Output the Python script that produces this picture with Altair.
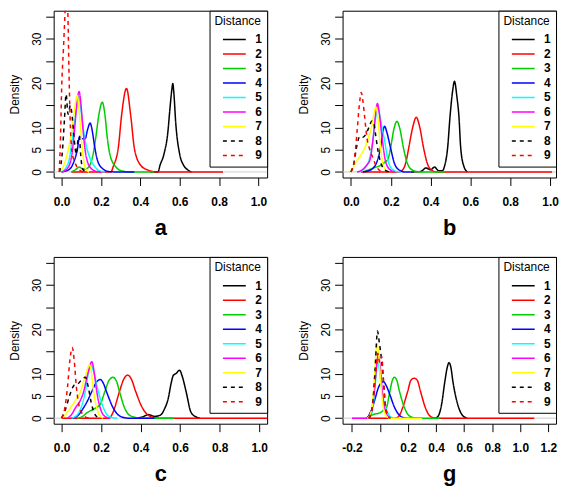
import altair as alt
import pandas as pd

SERIES = ["1", "2", "3", "4", "5", "6", "7", "8", "9"]
COLORS = ["#000000", "#FF0000", "#00CD00", "#0000FF", "#00FFFF", "#FF00FF", "#FFFF00", "#000000", "#FF0000"]
DASHES = [[1, 0]] * 7 + [[4, 4], [4, 4]]
Y_TICKS = [0, 5, 10, 15, 20, 25, 30, 35]
X_TICKS = [0.0, 0.2, 0.4, 0.6, 0.8, 1.0]
G_TICKS = [-0.2, 0.0, 0.2, 0.4, 0.6, 0.8, 1.0, 1.2]

# ---- panel a ----
A1 = [(0.45, 0), (0.49, 0), (0.50, 1.5), (0.52, 4), (0.54, 9), (0.55, 14), (0.56, 18.5), (0.565, 19.9), (0.57, 18), (0.58, 11), (0.60, 4), (0.62, 1.5), (0.64, 0.5), (0.66, 0)]
A2 = [(0.05, 0), (0.25, 0), (0.264, 1.4), (0.289, 5.7), (0.305, 12.8), (0.33, 18.8), (0.351, 12.8), (0.371, 5), (0.404, 1.4), (0.44, 0.4), (0.48, 0), (0.82, 0)]
A3 = [(0.05, 0), (0.07, 0.5), (0.09, 1.1), (0.11, 0.6), (0.13, 0.8), (0.158, 3.5), (0.174, 7.8), (0.19, 13), (0.207, 15.7), (0.22, 13), (0.232, 7.8), (0.248, 3.5), (0.281, 0.9), (0.31, 0.2), (0.35, 0), (0.47, 0)]
A4 = [(0.0, 0), (0.04, 0.6), (0.06, 2), (0.08, 5), (0.092, 8), (0.105, 7.5), (0.12, 7.5), (0.132, 9.5), (0.145, 11), (0.157, 9), (0.166, 6.3), (0.182, 2.7), (0.207, 0.8), (0.24, 0.1), (0.28, 0), (0.37, 0)]
A5 = [(0.0, 0), (0.02, 0.8), (0.04, 3), (0.051, 6.3), (0.07, 12.5), (0.089, 17), (0.10, 13.5), (0.117, 7.8), (0.141, 3.5), (0.166, 1.4), (0.19, 0.3), (0.22, 0)]
A6 = [(0.0, 0), (0.03, 0.8), (0.051, 3.5), (0.067, 10), (0.079, 16), (0.089, 18.1), (0.099, 15), (0.108, 10), (0.125, 3.5), (0.15, 0.8), (0.18, 0.1), (0.2, 0)]
A7 = [(-0.01, 0), (0.01, 1.4), (0.034, 5), (0.051, 9), (0.066, 14), (0.079, 17.2), (0.09, 13.5), (0.1, 7.8), (0.112, 2.7), (0.125, 0.6), (0.14, 0)]
A8 = [(-0.01, 0), (0.005, 5), (0.015, 12), (0.023, 17.5), (0.033, 13), (0.045, 15), (0.055, 12), (0.065, 7), (0.075, 4), (0.083, 7), (0.09, 8), (0.097, 4), (0.105, 1), (0.12, 0)]
A9 = [(-0.012, 0), (-0.005, 8), (0.0, 17.9), (0.01, 28), (0.018, 36), (0.025, 42), (0.032, 36), (0.038, 22), (0.045, 10), (0.055, 4), (0.065, 2.5), (0.08, 1), (0.1, 0.2), (0.12, 0)]

# ---- panel b ----
B1 = [(0.30, 0), (0.35, 0.1), (0.377, 0.9), (0.40, 0.5), (0.42, 1.1), (0.44, 0.3), (0.46, 0.3), (0.47, 1.3), (0.486, 5.6), (0.497, 12.1), (0.51, 18), (0.52, 20.4), (0.532, 17), (0.543, 12.1), (0.551, 5.6), (0.567, 1.3), (0.585, 0)]
B2 = [(0.05, 0), (0.24, 0), (0.26, 0.5), (0.275, 2), (0.291, 5.6), (0.31, 10), (0.328, 12.3), (0.346, 10), (0.364, 5.6), (0.383, 2), (0.40, 0.6), (0.43, 0), (1.01, 0)]
B3 = [(0.06, 0), (0.09, 0.5), (0.12, 1), (0.15, 1.5), (0.17, 2.2), (0.185, 2.8), (0.2, 5.6), (0.215, 9.5), (0.231, 11.4), (0.247, 9.5), (0.263, 5.6), (0.283, 2), (0.30, 0.7), (0.33, 0.1), (0.36, 0), (0.47, 0)]
B4 = [(0.06, 0), (0.09, 0.3), (0.11, 0.8), (0.128, 2), (0.149, 5.6), (0.16, 9), (0.169, 10.3), (0.18, 9), (0.198, 5.6), (0.218, 2), (0.24, 0.5), (0.27, 0), (0.3, 0)]
B5 = [(0.04, 0), (0.07, 0.8), (0.09, 2.5), (0.11, 7), (0.125, 12.5), (0.135, 14.5), (0.148, 12), (0.16, 9), (0.169, 7.1), (0.185, 2.8), (0.20, 1), (0.23, 0.1), (0.25, 0)]
B6 = [(0.03, 0), (0.06, 0.6), (0.08, 1.6), (0.096, 2.8), (0.112, 7.8), (0.124, 13), (0.133, 15.4), (0.143, 13), (0.156, 7.8), (0.172, 2.8), (0.19, 0.8), (0.22, 0)]
B7 = [(-0.01, 0), (0.01, 0.8), (0.022, 2), (0.05, 3.8), (0.071, 5.6), (0.09, 8), (0.104, 10.3), (0.115, 13), (0.125, 14.6), (0.135, 12.5), (0.144, 7.8), (0.156, 2.8), (0.17, 0.8), (0.19, 0)]
B8 = [(0.0, 0), (0.015, 2), (0.03, 6), (0.045, 8), (0.06, 7.8), (0.075, 8.5), (0.09, 10), (0.105, 11.5), (0.115, 11), (0.125, 8), (0.137, 4.5), (0.15, 2), (0.165, 0.7), (0.18, 0.2), (0.2, 0)]
B9 = [(0.0, 0), (0.015, 2), (0.031, 9.2), (0.042, 15), (0.052, 17.9), (0.06, 16), (0.068, 12.8), (0.08, 7.8), (0.095, 5), (0.11, 3.2), (0.125, 1.5), (0.14, 0.5), (0.16, 0)]

# ---- panel c ----
C1 = [(0.38, 0), (0.41, 0.3), (0.44, 0.8), (0.47, 0.4), (0.50, 0.7), (0.52, 2), (0.54, 4.5), (0.555, 8), (0.565, 9.6), (0.58, 10.1), (0.597, 10.8), (0.61, 9.5), (0.63, 6), (0.655, 1.3), (0.68, 0.3), (0.70, 0)]
C2 = [(0.0, 0), (0.24, 0), (0.255, 0.8), (0.269, 2.4), (0.293, 6), (0.315, 8.8), (0.334, 9.7), (0.353, 8.8), (0.375, 6), (0.408, 2.4), (0.44, 0.6), (0.47, 0.1), (0.5, 0), (1.04, 0)]
C3 = [(0.08, 0), (0.11, 0.5), (0.128, 1.2), (0.16, 2), (0.195, 3.1), (0.219, 6), (0.24, 8.5), (0.26, 9.2), (0.278, 8.3), (0.293, 6), (0.318, 2.4), (0.34, 0.8), (0.37, 0.2), (0.40, 0), (0.57, 0)]
C4 = [(0.05, 0), (0.08, 0.5), (0.112, 2.4), (0.13, 3.8), (0.153, 6), (0.175, 8), (0.195, 8.7), (0.212, 7.8), (0.227, 6), (0.26, 2.4), (0.285, 0.8), (0.31, 0.2), (0.34, 0), (0.47, 0)]
C5 = [(0.05, 0), (0.08, 0.8), (0.10, 2.5), (0.12, 6), (0.135, 10), (0.148, 12), (0.162, 10.5), (0.175, 8), (0.186, 6), (0.211, 2.4), (0.23, 0.8), (0.26, 0.1), (0.28, 0)]
C6 = [(0.03, 0), (0.05, 0.8), (0.071, 2.4), (0.095, 4), (0.112, 6), (0.13, 9.5), (0.153, 12.7), (0.166, 10), (0.178, 6), (0.195, 2.4), (0.21, 0.8), (0.24, 0)]
C7 = [(0.0, 0), (0.02, 0.8), (0.046, 2.4), (0.07, 4), (0.096, 6), (0.12, 9.5), (0.142, 12), (0.152, 10), (0.162, 6), (0.178, 2.4), (0.19, 0.8), (0.21, 0)]
C8 = [(0.0, 0), (0.02, 2), (0.04, 5), (0.063, 7.4), (0.085, 7.8), (0.10, 8.6), (0.12, 9.2), (0.135, 7), (0.15, 3.5), (0.165, 1.2), (0.18, 0.3), (0.2, 0)]
C9 = [(0.0, 0), (0.015, 2), (0.03, 7), (0.042, 13), (0.054, 15.9), (0.064, 13), (0.075, 7), (0.09, 2.5), (0.105, 1), (0.12, 0.3), (0.14, 0)]

# ---- panel g ----
G1 = [(0.39, 0), (0.41, 0.3), (0.425, 1.2), (0.439, 3.1), (0.462, 8.2), (0.48, 11.5), (0.492, 12.5), (0.505, 11.5), (0.52, 8.2), (0.554, 3.1), (0.58, 1), (0.60, 0.3), (0.62, 0)]
G2 = [(-0.08, 0), (0.1, 0), (0.13, 0.3), (0.162, 2.4), (0.197, 6), (0.22, 8.5), (0.243, 9), (0.266, 8.5), (0.289, 6), (0.323, 2.4), (0.35, 0.7), (0.38, 0.1), (0.41, 0), (1.1, 0)]
G3 = [(-0.1, 0), (-0.07, 0.5), (-0.04, 0.9), (-0.01, 1.1), (0.015, 1.5), (0.03, 2), (0.046, 2.4), (0.07, 6), (0.09, 8.7), (0.104, 9.2), (0.12, 8.5), (0.139, 6), (0.174, 2.4), (0.2, 0.8), (0.23, 0.2), (0.26, 0), (0.43, 0)]
G4 = [(-0.1, 0), (-0.085, 0.3), (-0.069, 1.3), (-0.05, 2.8), (-0.034, 4.5), (-0.01, 7), (0.024, 8.2), (0.045, 7.3), (0.07, 5.3), (0.104, 2.4), (0.14, 0.6), (0.17, 0.1), (0.2, 0), (0.3, 0)]
G5 = [(-0.2, 0), (-0.08, 0), (-0.06, 1), (-0.045, 4), (-0.03, 9), (-0.018, 12.8), (-0.005, 11), (0.01, 7), (0.03, 3.5), (0.06, 1), (0.08, 0.2), (0.1, 0)]
G6 = [(-0.2, 0), (-0.08, 0), (-0.06, 1.5), (-0.045, 5), (-0.03, 10), (-0.014, 14.1), (0.0, 12), (0.015, 6.5), (0.03, 2.5), (0.05, 0.8), (0.07, 0.1), (0.09, 0)]
G7 = [(-0.09, 0), (-0.07, 0.8), (-0.055, 3), (-0.04, 9), (-0.023, 16.8), (-0.01, 14.5), (0.003, 9), (0.015, 4.5), (0.03, 1.5), (0.05, 0.3), (0.07, 0), (0.3, 0)]
G8 = [(-0.08, 0), (-0.065, 1), (-0.05, 4), (-0.035, 11), (-0.018, 19.6), (-0.005, 17), (0.008, 14), (0.02, 10), (0.03, 6), (0.04, 2.5), (0.055, 0.7), (0.07, 0)]
G9 = [(-0.08, 0), (-0.065, 1), (-0.05, 3.5), (-0.032, 9.5), (-0.016, 14.6), (-0.002, 12.5), (0.012, 13.9), (0.022, 10), (0.032, 5), (0.045, 1.5), (0.06, 0.3), (0.075, 0)]

FONT = "Liberation Sans"
W, H = 215, 168


def make_df(curves):
    rows = []
    for s, pts in zip(SERIES, curves):
        for i, (x, y) in enumerate(pts):
            rows.append({"x": x, "y": y, "s": s, "o": i})
    return pd.DataFrame(rows)


def panel(curves, xdom, xticks, label_expr, letter):
    legend = alt.Legend(
        title="Distance", orient="top-right", offset=0, padding=5,
        strokeColor="black", fillColor="white", cornerRadius=0,
        symbolType="M-2.3,0H2.3", symbolSize=100, symbolStrokeWidth=1.5,
        symbolOffset=14, labelOffset=15, rowPadding=2.6,
        titlePadding=6, titleFontSize=12, titleFontWeight="normal", titleFont=FONT,
        labelFontSize=12, labelFontWeight="bold", labelFont=FONT, zindex=1,
    )
    yenc = alt.Y(
        "y:Q",
        scale=alt.Scale(domain=[-1.25, 36.3], nice=False, zero=False),
        axis=alt.Axis(
            title="Density", values=Y_TICKS,
            labelExpr="(datum.value == 15 || datum.value == 25 || datum.value == 35) ? '' : datum.label",
            labelAngle=270, labelAlign="center", labelBaseline="middle",
            labelPadding=9.5, tickSize=8, labelOverlap=False,
            titleX=-35, titleY=H / 2, titleAngle=270, titleAlign="center",
            titleBaseline="alphabetic", titleFontWeight="normal", titleFontSize=12,
        ),
    )
    xenc = alt.X(
        "x:Q",
        scale=alt.Scale(domain=xdom, nice=False, zero=False),
        axis=alt.Axis(
            title=letter, values=xticks, labelExpr=label_expr, labelOverlap=False,
            labelFlush=False, tickSize=8, labelPadding=11, labelFontWeight="bold",
            titleFontSize=22, titleFontWeight="bold", titleX=W / 2, titleY=57,
            titleBaseline="alphabetic", titleAlign="center",
        ),
    )
    zero = alt.Chart(pd.DataFrame({"y": [0]})).mark_rule(color="#cccccc", strokeWidth=1).encode(y=yenc)
    lines = alt.Chart(make_df(curves)).mark_line(clip=True, strokeWidth=1.5, interpolate="monotone").encode(
        x=xenc,
        y=yenc,
        color=alt.Color("s:N", scale=alt.Scale(domain=SERIES, range=COLORS), legend=legend),
        strokeDash=alt.StrokeDash("s:N", scale=alt.Scale(domain=SERIES, range=DASHES), legend=legend),
        order="o:Q",
    )
    return alt.layer(zero, lines).properties(width=W, height=H)


STD = "format(datum.value, '.1f')"
G_EXPR = "datum.value == 0 ? '' : (datum.value < 0 ? '-' + format(-datum.value, '.1f') : format(datum.value, '.1f'))"

pa = panel([A1, A2, A3, A4, A5, A6, A7, A8, A9], [-0.04, 1.044], X_TICKS, STD, "a")
pb = panel([B1, B2, B3, B4, B5, B6, B7, B8, B9], [-0.042, 1.03], X_TICKS, STD, "b")
pc = panel([C1, C2, C3, C4, C5, C6, C7, C8, C9], [-0.04, 1.04], X_TICKS, STD, "c")
pg = panel([G1, G2, G3, G4, G5, G6, G7, G8, G9], [-0.267, 1.255], G_TICKS, G_EXPR, "g")

chart = alt.concat(
    pa, pb, pc, pg, columns=2, spacing={"row": 80, "column": 76}, bounds="flush"
).resolve_scale(
    x="independent", y="independent", color="independent", strokeDash="independent"
).resolve_legend(
    color="independent", strokeDash="independent"
).properties(padding=0).configure_view(
    stroke="black", strokeWidth=1
).configure_axis(
    grid=False, domain=False, tickColor="black", labelColor="black", titleColor="black",
    labelFont=FONT, titleFont=FONT, labelFontSize=12,
)

chart.save("out.html", embed_options={"renderer": "svg", "actions": False})
